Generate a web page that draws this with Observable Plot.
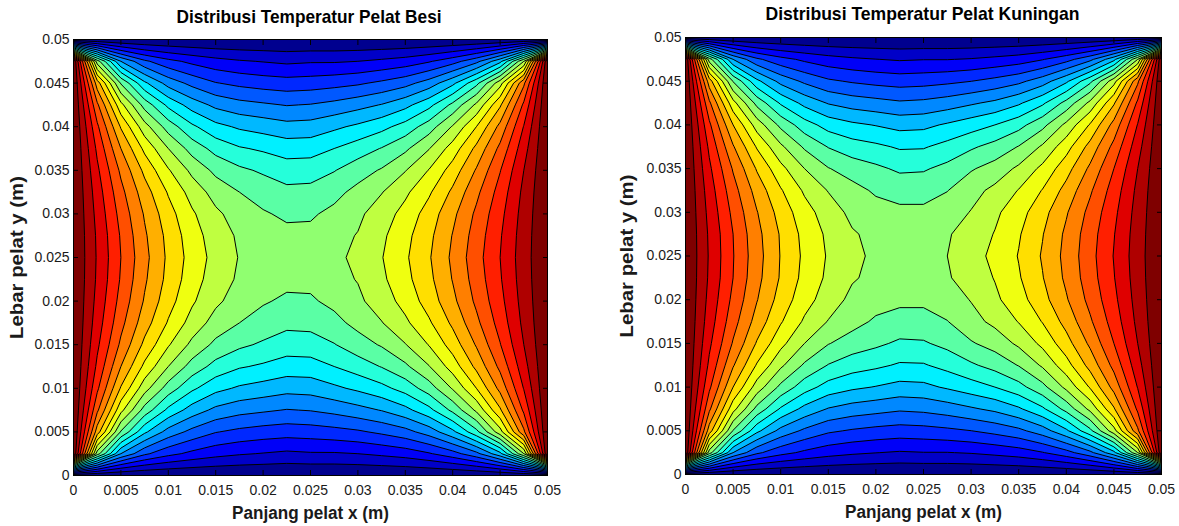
<!DOCTYPE html>
<html><head><meta charset="utf-8">
<script src="https://cdn.jsdelivr.net/npm/d3@7"></script>
<script src="https://cdn.jsdelivr.net/npm/@observablehq/plot@0.6"></script>
<style>
html,body{margin:0;padding:0;background:#fff}
#wrap{position:relative;width:1179px;height:526px;overflow:hidden}
#a,#b{position:absolute;top:0}
#a{left:0}#b{left:590px}
svg{display:block;background:#fff}
</style></head><body><div id="wrap"><div id="a"></div><div id="b"></div></div>
<script>
const xTicks=[0,0.005,0.01,0.015,0.02,0.025,0.03,0.035,0.04,0.045,0.05];
const yTicks=[0,0.005,0.01,0.015,0.02,0.025,0.03,0.035,0.04,0.045,0.05];
const levels=[0,1,2,3,4,5,6,7,8,9,10,11,12,13,14,15,16,17,18,19,20];
const colors=["#00008f","#0000c8","#0000f8","#0028ff","#0058ff","#0088ff","#00b8ff","#00f0ff","#25ffda","#5affa5","#90ff70","#bfff40","#efff10","#ffdf00","#ffaf00","#ff7f00","#ff4f00","#ff1f00","#df0000","#af0000","#7f0000"];
const zero=[0,0,0,0,0,0,0,0,0,0,0,0,0,0,0,0,0,0,0,0,0];
const besiGrid=[
zero,
[21,10.5,6,4.2,3.3,2.75,2.35,2.1,1.95,1.8,1.9,1.9,2,2.2,2.45,2.9,3.6,4.7,6.7,11,21],
[21,14.5,9.9,7.2,5.6,4.7,4.05,3.75,3.55,3.43,3.5,3.65,3.85,4.2,4.65,5.45,6.75,8.7,11.6,15.8,21],
[21,16.2,12.3,9.6,7.75,6.55,5.75,5.35,5.15,4.95,5.05,5.3,5.65,6.05,6.7,7.7,9.25,11.2,13.85,17.2,21],
[21,17.2,13.9,11.4,9.55,8.2,7.3,6.85,6.6,6.35,6.42,6.8,7.2,7.7,8.4,9.5,11.1,13,15.3,18.05,21],
[21,17.8,15,12.75,11,9.6,8.65,8.1,7.85,7.55,7.58,8,8.5,9.05,9.8,10.95,12.45,14.25,16.25,18.6,21],
[21,18.2,15.8,13.75,12.1,10.75,9.75,9.2,8.85,8.5,8.56,8.95,9.55,10.1,10.95,12.05,13.45,15.1,16.95,19,21],
[21,18.5,16.3,14.45,12.9,11.6,10.6,10,9.6,9.26,9.3,9.7,10.3,10.95,11.8,12.85,14.2,15.75,17.4,19.25,21],
[21,18.7,16.65,14.9,13.4,12.15,11.2,10.55,10.1,9.83,9.87,10.25,10.8,11.5,12.35,13.45,14.75,16.2,17.7,19.4,21],
[21,18.85,16.9,15.15,13.7,12.45,11.5,10.85,10.4,10.25,10.25,10.7,11.05,11.8,12.7,13.75,15.05,16.45,17.9,19.5,21],
[21,18.9,17,15.3,13.8,12.6,11.65,10.95,10.55,10.5,10.55,10.85,11.15,11.95,12.85,13.9,15.2,16.6,18,19.55,21],
[21,18.85,16.9,15.15,13.7,12.45,11.5,10.85,10.4,10.25,10.25,10.7,11.05,11.8,12.7,13.75,15.05,16.45,17.9,19.5,21],
[21,18.7,16.65,14.9,13.4,12.15,11.2,10.55,10.1,9.83,9.87,10.25,10.8,11.5,12.35,13.45,14.75,16.2,17.7,19.4,21],
[21,18.5,16.3,14.45,12.9,11.6,10.6,10,9.6,9.26,9.3,9.7,10.3,10.95,11.8,12.85,14.2,15.75,17.4,19.25,21],
[21,18.2,15.8,13.75,12.1,10.75,9.75,9.2,8.85,8.5,8.56,8.95,9.55,10.1,10.95,12.05,13.45,15.1,16.95,19,21],
[21,17.8,15,12.75,11,9.6,8.65,8.1,7.85,7.55,7.58,8,8.5,9.05,9.8,10.95,12.45,14.25,16.25,18.6,21],
[21,17.2,13.9,11.4,9.55,8.2,7.3,6.85,6.6,6.35,6.42,6.8,7.2,7.7,8.4,9.5,11.1,13,15.3,18.05,21],
[21,16.2,12.3,9.6,7.75,6.55,5.75,5.35,5.15,4.95,5.05,5.3,5.65,6.05,6.7,7.7,9.25,11.2,13.85,17.2,21],
[21,14.5,9.9,7.2,5.6,4.7,4.05,3.75,3.55,3.43,3.5,3.65,3.85,4.2,4.65,5.45,6.75,8.7,11.6,15.8,21],
[21,10.5,6,4.2,3.3,2.75,2.35,2.1,1.95,1.8,1.9,1.9,2,2.2,2.45,2.9,3.6,4.7,6.7,11,21],
zero];
const kuninganGrid=[
zero,
[21,10.5,6,4.2,3.34,2.8,2.41,2.17,2.02,1.9,1.97,1.97,2.07,2.26,2.5,2.94,3.63,4.72,6.7,11,21],
[21,14.5,9.94,7.26,5.68,4.8,4.17,3.89,3.69,3.56,3.63,3.78,3.99,4.32,4.75,5.53,6.81,8.74,11.62,15.8,21],
[21,16.2,12.36,9.69,7.87,6.7,5.93,5.56,5.36,5.15,5.25,5.5,5.86,6.23,6.85,7.82,9.34,11.26,13.88,17.2,21],
[21,17.2,14,11.55,9.75,8.45,7.6,7.2,6.95,6.68,6.75,7.13,7.55,8,8.65,9.7,11.25,13.1,15.35,18.05,21],
[21,17.8,15.1,12.9,11.2,9.85,8.95,8.45,8.2,7.88,7.91,8.33,8.85,9.35,10.05,11.15,12.6,14.35,16.3,18.6,21],
[21,18.2,15.9,13.9,12.3,11,10.05,9.55,9.2,8.83,8.89,9.28,9.9,10.4,11.2,12.25,13.6,15.2,17,19,21],
[21,18.5,16.4,14.6,13.1,11.85,10.95,10.35,9.85,9.65,9.65,9.97,10.65,11.25,12.05,13.05,14.35,15.85,17.45,19.25,21],
[21,18.7,16.75,15.05,13.6,12.4,11.5,10.75,10.4,10.2,10.2,10.5,11.05,11.8,12.6,13.65,14.9,16.3,17.75,19.4,21],
[21,18.85,17,15.3,13.9,12.7,11.8,11.1,10.75,10.58,10.58,10.9,11.45,12.05,12.9,13.95,15.2,16.55,17.95,19.5,21],
[21,18.9,17.05,15.4,13.95,12.8,11.9,11.25,10.8,10.72,10.78,11,11.6,12.25,13.05,14.1,15.3,16.65,18.05,19.55,21],
[21,18.85,17,15.3,13.9,12.7,11.8,11.1,10.75,10.58,10.58,10.9,11.45,12.05,12.9,13.95,15.2,16.55,17.95,19.5,21],
[21,18.7,16.75,15.05,13.6,12.4,11.5,10.75,10.4,10.2,10.2,10.5,11.05,11.8,12.6,13.65,14.9,16.3,17.75,19.4,21],
[21,18.5,16.4,14.6,13.1,11.85,10.95,10.35,9.85,9.65,9.65,9.97,10.65,11.25,12.05,13.05,14.35,15.85,17.45,19.25,21],
[21,18.2,15.9,13.9,12.3,11,10.05,9.55,9.2,8.83,8.89,9.28,9.9,10.4,11.2,12.25,13.6,15.2,17,19,21],
[21,17.8,15.1,12.9,11.2,9.85,8.95,8.45,8.2,7.88,7.91,8.33,8.85,9.35,10.05,11.15,12.6,14.35,16.3,18.6,21],
[21,17.2,14,11.55,9.75,8.45,7.6,7.2,6.95,6.68,6.75,7.13,7.55,8,8.65,9.7,11.25,13.1,15.35,18.05,21],
[21,16.2,12.36,9.69,7.87,6.7,5.93,5.56,5.36,5.15,5.25,5.5,5.86,6.23,6.85,7.82,9.34,11.26,13.88,17.2,21],
[21,14.5,9.94,7.26,5.68,4.8,4.17,3.89,3.69,3.56,3.63,3.78,3.99,4.32,4.75,5.53,6.81,8.74,11.62,15.8,21],
[21,10.5,6,4.2,3.34,2.8,2.41,2.17,2.02,1.9,1.97,1.97,2.07,2.26,2.5,2.94,3.63,4.72,6.7,11,21],
zero];
const step=0.0025;
const font="'Liberation Sans',Arial,sans-serif";
function fit(el,size,length){
  if(!el)return;
  el.setAttribute("font-weight","bold");el.setAttribute("font-size",size);
  el.style.fontWeight="bold";el.style.fontSize=size+"px";
  el.setAttribute("textLength",length);el.setAttribute("lengthAdjust","spacingAndGlyphs");
}
function panel(grid,title,m){
  const fmt=d=>String(d);
  const svg=Plot.plot({
    width:m.width,height:526,marginLeft:m.left,marginRight:m.right,marginTop:m.top,marginBottom:m.bottom,
    style:{fontFamily:font,background:"#fff",color:"#1a1a1a"},
    x:{domain:[0,0.05],label:null},
    y:{domain:[0,0.05],label:null},
    color:{type:"ordinal",domain:levels,range:colors},
    marks:[
      Plot.contour(grid.flat(),{width:21,height:21,x1:-step/2,x2:0.05+step/2,y1:-step/2,y2:0.05+step/2,
        value:d=>d,thresholds:levels,fill:"value",stroke:"#000",strokeWidth:1,smooth:true,clip:"frame"}),
      Plot.axisX(xTicks,{anchor:"bottom",tickSize:-5,tickPadding:15,tickFormat:fmt,fontSize:14,stroke:"#000",strokeWidth:1,label:"Panjang pelat x (m)",labelAnchor:"center",labelArrow:"none",labelOffset:43}),
      Plot.axisX(xTicks,{anchor:"top",tickSize:-5,tickFormat:()=>"",stroke:"#000",label:null}),
      Plot.axisY(yTicks,{anchor:"left",tickSize:-5,tickPadding:9,tickFormat:fmt,fontSize:14,stroke:"#000",strokeWidth:1,label:"Lebar pelat y (m)",labelAnchor:"center",labelArrow:"none",labelOffset:m.yLabelOffset}),
      Plot.axisY(yTicks,{anchor:"right",tickSize:-5,tickFormat:()=>"",stroke:"#000",label:null}),
      Plot.frame({stroke:"#000",strokeWidth:1}),
      Plot.text([title],{frameAnchor:"top",dy:m.titleDy,dx:m.titleDx,fontWeight:"bold",fontSize:19,fill:"#000",text:d=>d})
    ]
  });
  fit(svg.querySelector("[aria-label='x-axis label'] text"),18,157);
  fit(svg.querySelector("[aria-label='y-axis label'] text"),19,163);
  fit(svg.querySelector("[aria-label='text'] text"),19,m.titleLen);
  return svg;
}
document.getElementById("a").append(panel(besiGrid,"Distribusi Temperatur Pelat Besi",{width:590,left:73,right:43,top:39,bottom:51,titleDy:-30,titleDx:-1.5,titleLen:265,yLabelOffset:64}));
document.getElementById("b").append(panel(kuninganGrid,"Distribusi Temperatur Pelat Kuningan",{width:589,left:95,right:18,top:37,bottom:52,titleDy:-31,titleDx:-1,titleLen:314,yLabelOffset:66}));
</script></body></html>
